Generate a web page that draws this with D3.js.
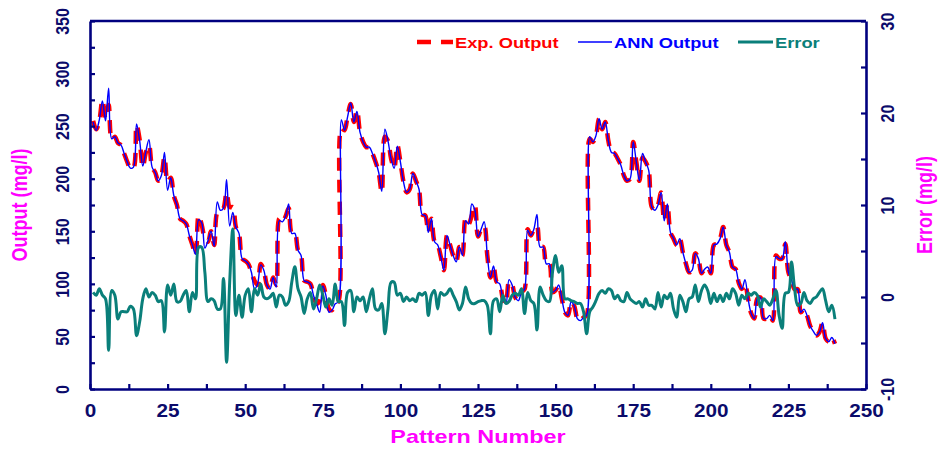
<!DOCTYPE html>
<html><head><meta charset="utf-8">
<script src="https://cdn.jsdelivr.net/npm/d3@7"></script>
<style>body{margin:0;background:#fff} svg{display:block}</style>
</head><body>
<svg id="c" width="942" height="449"></svg>
<script>
// ---- data ----
const patterns = d3.range(1, 241);
const expOutput = [
255,247,255,275,257,270,237,240,234,232,224,216,210,210,251,237,211,225,232,211,
206,198,203,221,197,201,184,175,162,160,157,146,137,127,165,156,143,140,150,137,
168,170,172,187,173,173,154,148,124,122,119,111,103,99,119,113,99,95,106,99,
162,159,164,172,148,148,132,127,103,102,100,89,81,84,99,89,76,75,81,83,
248,246,260,271,254,265,244,235,230,230,224,216,206,187,240,236,219,210,232,216,
197,187,190,205,198,190,166,165,149,162,140,137,126,113,146,137,127,121,135,127,
162,157,165,175,145,152,155,127,106,117,102,100,86,81,102,99,87,84,92,95,
152,146,152,155,135,135,119,119,92,94,99,86,73,70,83,79,67,65,68,70,
238,235,241,257,247,254,236,225,224,219,213,203,198,200,235,216,198,220,216,208,
173,170,175,187,160,176,149,143,137,143,130,119,111,113,129,124,110,114,116,110,
137,138,143,154,137,130,116,114,101,95,100,86,72,67,86,87,67,67,70,65,
127,124,124,138,111,104,95,95,73,76,70,60,55,51,54,63,48,45,49,43];
const annOutput = [
254,246,256,274,255,286,238,240,234,232,224,216,210,211,252,236,212,226,237,211,
206,198,203,225,189,201,184,175,162,160,157,146,137,128,161,158,134,141,150,136,
178,170,172,199,155,168,154,148,124,122,119,111,95,100,118,113,99,95,106,97,
160,159,164,176,148,148,132,127,103,102,100,89,81,73,98,89,73,75,81,83,
256,246,259,272,254,264,244,235,230,230,224,216,206,188,247,236,219,210,231,216,
197,187,190,205,198,190,166,165,149,162,140,137,126,113,146,137,127,121,135,127,
160,157,176,170,145,152,159,127,106,117,102,100,86,81,104,99,87,84,92,95,
151,146,152,166,135,135,119,119,92,94,99,86,73,70,83,79,67,65,68,70,
240,235,241,257,247,254,236,225,224,219,213,203,198,200,235,216,198,224,216,208,
173,170,175,187,160,176,149,143,137,143,130,119,111,113,129,124,110,114,116,110,
137,138,143,154,137,130,116,114,101,95,104,86,72,67,86,87,67,67,70,65,
126,124,124,140,111,104,95,95,73,76,70,60,55,51,54,63,48,45,49,43];
const errorValues = [
0.5,0.2,0.9,0.2,-0.2,-5.8,0.7,0.2,-2.4,-1.6,-1.6,-1.6,-1.0,-1.3,-4.2,-2.7,-0.2,0.9,0,0.5,
0.2,-0.5,-0.4,-3.8,1.3,0.2,1.4,-0.5,-0.5,0.2,0.7,-1.6,0.5,-0.2,5.4,5.4,2.7,-0.5,-0.2,-0.4,
-1.3,-1.3,2.0,-7.1,1.6,7.4,-2.0,0.2,-2.2,0.2,0.9,-1.6,0.9,0.2,1.4,0,-0.2,0,0.4,-1.1,
0.2,0,-0.9,-0.5,1.6,3.3,0.9,0,-1.8,-0.2,0.5,-1.3,-0.2,1.3,0.2,-1.1,-0.2,-0.9,1.4,-0.5,
-0.5,-3.1,0.5,0.7,-1.6,0,-0.4,0,-1.6,-0.2,0.9,-1.3,-1.4,-0.7,-4.0,-1.3,1.6,1.6,0.2,0.4,
-0.5,0,-0.4,-0.2,-0.5,0.4,0.2,0.5,-2.0,0.2,0.7,-1.3,0.5,0.2,0.4,0.9,0.2,-0.5,-1.4,-0.7,
1.1,-0.2,-0.7,-0.7,-0.5,-0.4,-0.4,-0.9,-4.0,-0.4,-0.2,-1.6,0.2,-0.7,-0.5,0.2,0.4,0.2,0.9,-1.8,
0.5,-0.4,-0.7,-3.6,1.1,0.2,-0.4,-0.5,2.7,4.5,2.7,3.4,-0.2,-0.2,-0.4,-0.5,-0.7,-0.7,-1.6,-4.0,
-1.6,-1.1,-0.4,0.4,0.7,0.4,0.9,0.7,-0.2,0.2,-0.4,-0.5,0.5,-0.2,-0.5,-0.7,-0.5,-1.1,-0.2,-0.9,
-0.9,-1.3,0.5,-1.1,0.2,-0.2,0.4,-1.3,-2.2,0.2,-0.5,-1.6,-0.2,0,1.3,-0.5,0.7,1.3,0.7,-0.7,
0.4,-0.5,0.2,-0.5,0.4,-0.2,0.9,0.4,-0.9,0.2,-0.2,0.4,0.2,0.5,0.2,-1.1,-0.2,-0.5,-0.9,-0.2,
0.7,-2.0,-3.4,0.4,0.5,3.8,0.9,-0.9,-0.7,0.5,-0.4,-0.7,-0.2,0,0.5,0.9,-0.4,-1.6,-0.9,-2.4];
const xTicks = [0,25,50,75,100,125,150,175,200,225,250];
const yTicks = [0,50,100,150,200,250,300,350];
const y2Ticks = [-10,0,10,20,30];
const legendLabels = ["Exp. Output","ANN Output","Error"];
const axisTitles = {x:"Pattern Number", y:"Output (mg/l)", y2:"Error (mg/l)"};

// ---- layout ----
const L=90, R=866, T=21, B=389;
const NAVY="#00007f", TXT="#0b0b6b", MAG="#ff00ff";
const C_EXP="#ff0000", C_ANN="#0000ff", C_ERR="#0a7f7a";
const FONT="'Liberation Sans', Arial, sans-serif";

const svg = d3.select("#c");
const x = d3.scaleLinear().domain([0,250]).range([L,R]);
const y = d3.scaleLinear().domain([0,350]).range([B,T]);
const y2 = d3.scaleLinear().domain([-10,30]).range([B,T]);

// lines
const curve = d3.curveCatmullRom.alpha(0.5);
const lineExp = d3.line().x((d,i)=>x(patterns[i])).y(d=>y(d)).curve(curve);
const lineErr = d3.line().x((d,i)=>x(patterns[i])).y(d=>y2(d)).curve(curve);

const plot = svg.append("g");
plot.append("path").attr("d", lineExp(expOutput)).attr("fill","none")
  .attr("stroke",C_EXP).attr("stroke-width",4.5).attr("stroke-dasharray","13,9");
plot.append("path").attr("d", lineExp(annOutput)).attr("fill","none")
  .attr("stroke",C_ANN).attr("stroke-width",1.4);
plot.append("path").attr("d", lineErr(errorValues)).attr("fill","none")
  .attr("stroke",C_ERR).attr("stroke-width",3);

// axes
function styleAxis(g){
  g.select(".domain").attr("stroke",NAVY).attr("stroke-width",2.6);
  g.selectAll(".tick line").attr("stroke",NAVY).attr("stroke-width",2.2);
  g.selectAll("text").attr("fill",TXT).attr("font-family",FONT).attr("font-weight","bold");
}
// bottom
const gx = svg.append("g").attr("transform",`translate(0,${B})`)
  .call(d3.axisBottom(x).tickValues(d3.range(0,251,12.5)).tickSizeInner(-5).tickSizeOuter(0)
  .tickFormat(d=> xTicks.includes(d) ? d : ""));
styleAxis(gx);
gx.selectAll("text").attr("font-size",18).attr("y",null).attr("dy",null)
  .attr("transform","translate(0,27.5) scale(1.15,1)").attr("text-anchor","middle");

// left
const gy = svg.append("g").attr("transform",`translate(${L},0)`)
  .call(d3.axisLeft(y).tickValues(d3.range(0,351,25)).tickSizeInner(-5).tickSizeOuter(0)
  .tickFormat(d=> yTicks.includes(d) ? d : ""));
styleAxis(gy);
gy.selectAll("text").attr("font-size",16).attr("x",null).attr("dy",null)
  .attr("text-anchor","middle").attr("transform","translate(-21.5,0) scale(1.2,1) rotate(-90)");

// right
const gy2 = svg.append("g").attr("transform",`translate(${R},0)`)
  .call(d3.axisRight(y2).tickValues(d3.range(-10,31,5)).tickSizeInner(-5).tickSizeOuter(0)
  .tickFormat(d=> y2Ticks.includes(d) ? d : ""));
styleAxis(gy2);
gy2.selectAll("text").attr("font-size",16).attr("x",null).attr("dy",null)
  .attr("text-anchor","middle").attr("transform","translate(28,0) scale(1.2,1) rotate(-90)");

// top border
svg.append("line").attr("x1",L).attr("x2",R).attr("y1",T).attr("y2",T)
  .attr("stroke",NAVY).attr("stroke-width",2.6);

// axis titles
svg.append("text").text(axisTitles.x).attr("fill",MAG).attr("font-family",FONT)
  .attr("font-weight","bold").attr("font-size",18).attr("text-anchor","middle")
  .attr("transform",`translate(${(L+R)/2},443) scale(1.3,1)`);
svg.append("text").text(axisTitles.y).attr("fill",MAG).attr("font-family",FONT)
  .attr("font-weight","bold").attr("font-size",18).attr("text-anchor","middle")
  .attr("transform",`translate(27,${(T+B)/2}) scale(1.18,1) rotate(-90)`);
svg.append("text").text(axisTitles.y2).attr("fill",MAG).attr("font-family",FONT)
  .attr("font-weight","bold").attr("font-size",18).attr("text-anchor","middle")
  .attr("transform",`translate(932,${(T+B)/2}) scale(1.18,1) rotate(-90)`);

// legend
const legend = [
  {label:legendLabels[0], color:C_EXP, x0:417, x1:453, w:4.5, dash:"14,10", tx:455},
  {label:legendLabels[1], color:C_ANN, x0:578, x1:612, w:1.4, dash:null, tx:614},
  {label:legendLabels[2], color:C_ERR, x0:738, x1:773, w:3, dash:null, tx:775}
];
const lg = svg.append("g");
legend.forEach(d=>{
  const ln = lg.append("line").attr("x1",d.x0).attr("x2",d.x1).attr("y1",42).attr("y2",42)
    .attr("stroke",d.color).attr("stroke-width",d.w);
  if(d.dash) ln.attr("stroke-dasharray",d.dash);
  lg.append("text").text(d.label).attr("fill",d.color).attr("font-family",FONT)
    .attr("font-weight","bold").attr("font-size",15)
    .attr("transform",`translate(${d.tx},47.5) scale(1.22,1)`);
});
</script>
</body></html>
